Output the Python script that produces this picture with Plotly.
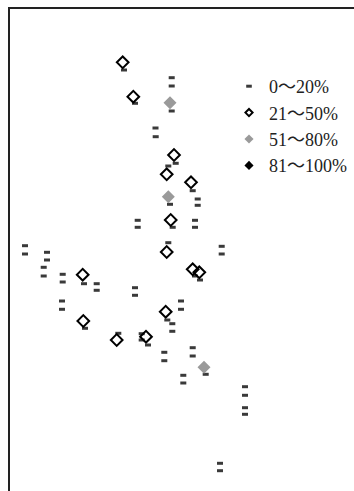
import plotly.graph_objects as go

# Category labels
labels = ["0～20%", "21～50%", "51～80%", "81～100%"]

# Site positions (east, south) per category
low_x = [124, 135, 171.7, 171.7, 171.7, 155.5, 155.7, 168.3, 175.7, 192.7, 170, 197.7, 197.7,
         172.7, 137.7, 137.7, 195, 195, 25, 25, 168.3, 221.7, 221.7, 47, 47, 43.7, 43.7,
         62.7, 62.7, 84, 96.7, 96.7, 195, 200, 135, 135, 62, 62, 181, 181, 167.3, 172.3,
         172.3, 85, 118.3, 141.7, 141.7, 148, 164.3, 164.3, 192.7, 192.7, 205.7, 183.3,
         183.3, 245, 245, 245, 245, 220, 220]
low_y = [70, 103.3, 77.7, 86, 111, 128, 136.7, 166, 163.3, 190.7, 204.3, 199, 205.3,
         227.3, 220.3, 227.3, 220.3, 227.3, 245.7, 254, 242.7, 246.3, 254, 252.3, 260, 267.3, 276,
         274.3, 282, 283.7, 283.7, 290.3, 276, 280, 287.7, 295.3, 301, 309.3, 301, 309.3, 320, 323.7,
         331.3, 328.3, 333.3, 333.7, 340, 345, 352.3, 360.7, 347.7, 356, 374.3, 375.3,
         383, 386.7, 395.3, 407.7, 414.3, 463.3, 470.7]

mid_x = [122.7, 133.3, 174, 166.7, 191, 170.7, 166.7, 82.7, 192.7, 199.3, 165.7, 83.3, 116.7, 146]
mid_y = [62.3, 96.7, 155, 174.3, 182.3, 220, 252, 274.7, 269.3, 272.3, 311.7, 321, 340, 336.7]

high_x = [170, 168.3, 204]
high_y = [102.7, 196.7, 367.3]

top_x = []
top_y = []

W, H = 354, 491
L, T = 10, 9
X0, X1 = 10, 354
Y0, Y1 = 9, 491

styles = [
    dict(symbol="line-ew-open", size=4.3, color="#3a3a3a", line=dict(width=3, color="#3a3a3a")),
    dict(symbol="diamond-open", size=9, color="#000000", line=dict(width=2, color="#000000")),
    dict(symbol="diamond", size=10, color="#9a9a9a", line=dict(width=0)),
    dict(symbol="diamond", size=10, color="#000000", line=dict(width=0)),
]
legend_styles = [
    dict(symbol="line-ew-open", size=4, color="#3a3a3a", line=dict(width=3, color="#3a3a3a")),
    dict(symbol="diamond-open", size=5.5, color="#000000", line=dict(width=2, color="#000000")),
    dict(symbol="diamond", size=7, color="#9a9a9a", line=dict(width=0)),
    dict(symbol="diamond", size=7, color="#000000", line=dict(width=0)),
]
series = [(low_x, low_y), (mid_x, mid_y), (high_x, high_y), (top_x, top_y)]

fig = go.Figure()
for (xs, ys), st in zip(series, styles):
    fig.add_trace(go.Scatter(x=xs, y=ys, mode="markers", marker=st, showlegend=False,
                             hoverinfo="skip"))
for lab, st in zip(labels, legend_styles):
    fig.add_trace(go.Scatter(x=[None], y=[None], mode="markers", marker=st, name=lab))

fig.update_layout(
    width=W, height=H,
    margin=dict(l=L, r=0, t=T, b=0, pad=0, autoexpand=False),
    paper_bgcolor="white", plot_bgcolor="white",
    xaxis=dict(range=[X0, X1], showgrid=False, zeroline=False, showticklabels=False,
               ticks="", showline=True, linewidth=2, linecolor="#222", side="top", mirror=False),
    yaxis=dict(range=[Y1, Y0], showgrid=False, zeroline=False, showticklabels=False,
               ticks="", showline=True, linewidth=2, linecolor="#222"),
    legend=dict(xref="container", yref="container", x=229 / W, y=1 - 68 / H,
                xanchor="left", yanchor="top", bgcolor="rgba(0,0,0,0)",
                font=dict(family="Liberation Serif, Noto Sans CJK JP, serif", size=18, color="#222")),
    showlegend=True,
)
fig.write_html(
    "out.html",
    config={"displayModeBar": False},
    post_script="document.body.style.margin='0';document.documentElement.style.overflow='hidden';",
)
